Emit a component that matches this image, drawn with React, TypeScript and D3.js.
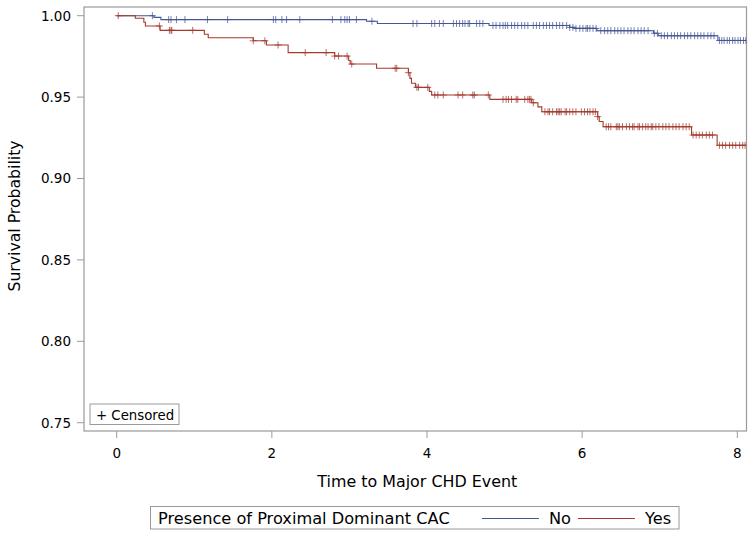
import React from "react";
import * as d3 from "d3";

const W = 754;
const H = 537;

// Step curves: time at which each level starts, and survival level
const noTimes = [0, 0.48, 0.57, 3.22, 3.36, 4.8, 5.84, 5.9, 6.19, 6.92, 6.98, 7.75];
const noSurv = [1.0, 0.999, 0.9976, 0.9966, 0.9952, 0.994, 0.9928, 0.9922, 0.9908, 0.9892, 0.9877, 0.9848];
const noEnd = 8.11;

const yesTimes = [0, 0.24, 0.35, 0.37, 0.56, 1.13, 1.18, 1.76, 1.93, 2.21, 2.81, 2.99, 3.01, 3.35, 3.76, 3.78, 3.8, 3.85, 4.03, 4.06, 4.81, 5.35, 5.43, 5.48, 6.2, 6.22, 6.27, 7.41, 7.74];
const yesSurv = [1.0, 0.9984, 0.996, 0.9937, 0.991, 0.9886, 0.9865, 0.9846, 0.982, 0.9773, 0.9752, 0.9725, 0.9703, 0.9677, 0.965, 0.9615, 0.9585, 0.956, 0.9535, 0.9513, 0.9486, 0.9465, 0.944, 0.941, 0.938, 0.935, 0.9318, 0.9267, 0.9204];
const yesEnd = 8.11;

// Censored times
const noCensor = [0.46, 0.67, 0.7, 0.77, 0.88, 1.17, 1.43, 2.02, 2.05, 2.13, 2.19, 2.36, 2.78, 2.89, 2.94, 2.97, 3.0, 3.09, 3.29, 3.82, 3.87,
  4.06, 4.1, 4.16, 4.21, 4.34, 4.38, 4.42, 4.46, 4.49, 4.53, 4.55, 4.64, 4.68, 4.72, 4.85, 4.89, 4.94, 4.98, 5.01, 5.04, 5.09, 5.13, 5.17,
  5.22, 5.26, 5.3, 5.37, 5.41, 5.45, 5.5, 5.54, 5.58, 5.62, 5.67, 5.71, 5.75, 5.8, 5.84, 5.88, 5.92, 5.97, 6.01, 6.05,
  6.07, 6.1, 6.14, 6.18, 6.24, 6.29, 6.33, 6.37, 6.42, 6.46, 6.5, 6.54, 6.59, 6.63, 6.67, 6.72, 6.76, 6.8, 6.85, 6.93, 6.97,
  7.02, 7.06, 7.1, 7.15, 7.19, 7.23, 7.27, 7.32, 7.36, 7.4, 7.45, 7.49, 7.53, 7.57, 7.62, 7.66, 7.7, 7.77, 7.8, 7.83, 7.87,
  7.9, 7.94, 7.97, 8.01, 8.04, 8.08, 8.11];
const yesCensor = [0.02, 0.55, 0.68, 0.7, 0.71, 0.98, 1.76, 1.91, 2.08, 2.43, 2.7, 2.81, 2.86, 2.97, 3.03, 3.59, 3.61, 3.76, 3.87, 3.89,
  4.01, 4.1, 4.14, 4.21, 4.4, 4.46, 4.59, 4.61, 4.79, 4.98, 5.02, 5.05, 5.09, 5.15, 5.17, 5.26, 5.3, 5.32, 5.34, 5.37,
  5.52, 5.56, 5.58, 5.62, 5.67, 5.69, 5.71, 5.73, 5.78, 5.8, 5.84, 5.88, 5.92, 5.99, 6.03, 6.07, 6.1, 6.14, 6.17, 6.2,
  6.31, 6.34, 6.37, 6.44, 6.46, 6.48, 6.52, 6.57, 6.61, 6.65, 6.67, 6.72, 6.74, 6.78, 6.82, 6.85, 6.89, 6.91, 6.95, 6.99,
  7.04, 7.08, 7.12, 7.17, 7.21, 7.25, 7.3, 7.34, 7.38, 7.43, 7.47, 7.51, 7.55, 7.6, 7.64, 7.68, 7.77, 7.81, 7.85, 7.9,
  7.94, 7.98, 8.03, 8.07, 8.1];

const xTicks = [0, 2, 4, 6, 8];
const yTicks = [0.75, 0.8, 0.85, 0.9, 0.95, 1.0];

const seriesNames = ["No", "Yes"];
const colors = ["#445694", "#A23A2E"];

const FONT = "'DejaVu Sans', sans-serif";

function stepValue(times: number[], surv: number[], t: number) {
  let v = surv[0];
  for (let i = 0; i < times.length; i++) {
    if (times[i] <= t) v = surv[i];
  }
  return v;
}

export default function App() {
  const frame = { left: 84, top: 7, right: 746.5, bottom: 431 };
  const x = d3.scaleLinear().domain([0, 8]).range([116.7, 737.3]);
  const y = d3.scaleLinear().domain([0.75, 1.0]).range([422.7, 15.7]);

  const line = d3
    .line<[number, number]>()
    .x((d) => x(d[0]))
    .y((d) => y(d[1]))
    .curve(d3.curveStepAfter);

  const series = [
    { times: noTimes, surv: noSurv, end: noEnd, cens: noCensor },
    { times: yesTimes, surv: yesSurv, end: yesEnd, cens: yesCensor },
  ];

  const axisColor = "#9a9a9a";
  const textColor = "#000";

  return (
    <svg width={W} height={H} style={{ position: "absolute", left: 0, top: 0, background: "#fff" }}>
      <rect x={0} y={0} width={W} height={H} fill="#fff" />
      {/* frame */}
      <rect
        x={frame.left}
        y={frame.top}
        width={frame.right - frame.left}
        height={frame.bottom - frame.top}
        fill="none"
        stroke={axisColor}
        strokeWidth={1.2}
      />
      {/* y ticks */}
      {yTicks.map((t) => (
        <g key={"y" + t}>
          <line x1={frame.left - 7} x2={frame.left} y1={y(t)} y2={y(t)} stroke={axisColor} strokeWidth={1} />
          <text
            x={71}
            y={y(t)}
            dy="0.36em"
            textAnchor="end"
            fontFamily={FONT}
            fontSize={13.5}
            fill={textColor}
          >
            {d3.format(".2f")(t)}
          </text>
        </g>
      ))}
      {/* x ticks */}
      {xTicks.map((t) => (
        <g key={"x" + t}>
          <line x1={x(t)} x2={x(t)} y1={frame.bottom} y2={frame.bottom + 7} stroke={axisColor} strokeWidth={1} />
          <text x={x(t)} y={457.5} textAnchor="middle" fontFamily={FONT} fontSize={13.5} fill={textColor}>
            {t}
          </text>
        </g>
      ))}
      {/* axis titles */}
      <text
        x={(frame.left + frame.right) / 2 + 2}
        y={486.5}
        textAnchor="middle"
        fontFamily={FONT}
        fontSize={15.9}
        fill={textColor}
      >
        Time to Major CHD Event
      </text>
      <text
        transform={`translate(19.5, ${(frame.top + frame.bottom) / 2 - 3}) rotate(-90)`}
        textAnchor="middle"
        fontFamily={FONT}
        fontSize={15.7}
        fill={textColor}
      >
        Survival Probability
      </text>

      {/* curves */}
      <g clipPath="url(#plotclip)">
        <defs>
          <clipPath id="plotclip">
            <rect x={frame.left} y={frame.top} width={frame.right - frame.left} height={frame.bottom - frame.top} />
          </clipPath>
        </defs>
        {series.map((s, i) => {
          const pts: [number, number][] = s.times.map((t, k) => [t, s.surv[k]] as [number, number]);
          pts.push([s.end, s.surv[s.surv.length - 1]]);
          return (
            <g key={"s" + i}>
              <path d={line(pts) || ""} fill="none" stroke={colors[i]} strokeWidth={1.1} />
              {s.cens.map((c, k) => {
                const cx = x(c);
                const cy = y(stepValue(s.times, s.surv, c));
                return (
                  <path
                    key={k}
                    d={`M${cx - 3.5},${cy}H${cx + 3.5}M${cx},${cy - 3.5}V${cy + 3.5}`}
                    stroke={colors[i]}
                    strokeOpacity={0.75}
                    strokeWidth={1}
                    fill="none"
                  />
                );
              })}
            </g>
          );
        })}
      </g>

      {/* censored inset legend */}
      <rect x={90} y={404} width={89} height={20.5} fill="#fff" stroke={axisColor} strokeWidth={1} />
      <text x={96} y={419.5} fontFamily={FONT} fontSize={13.3} fill={textColor}>
        + Censored
      </text>

      {/* bottom legend */}
      <rect x={150.5} y={506.5} width={528.5} height={22.5} fill="#fff" stroke={axisColor} strokeWidth={1} />
      <text x={158} y={524} fontFamily={FONT} fontSize={16.2} fill={textColor}>
        Presence of Proximal Dominant CAC
      </text>
      {seriesNames.map((n, i) => {
        const lx = [482, 578][i];
        return (
          <g key={n}>
            <line x1={lx} x2={lx + 57} y1={518.5} y2={518.5} stroke={colors[i]} strokeWidth={1} />
            <text x={lx + 67} y={524} fontFamily={FONT} fontSize={16.2} fill={textColor}>
              {n}
            </text>
          </g>
        );
      })}
    </svg>
  );
}
